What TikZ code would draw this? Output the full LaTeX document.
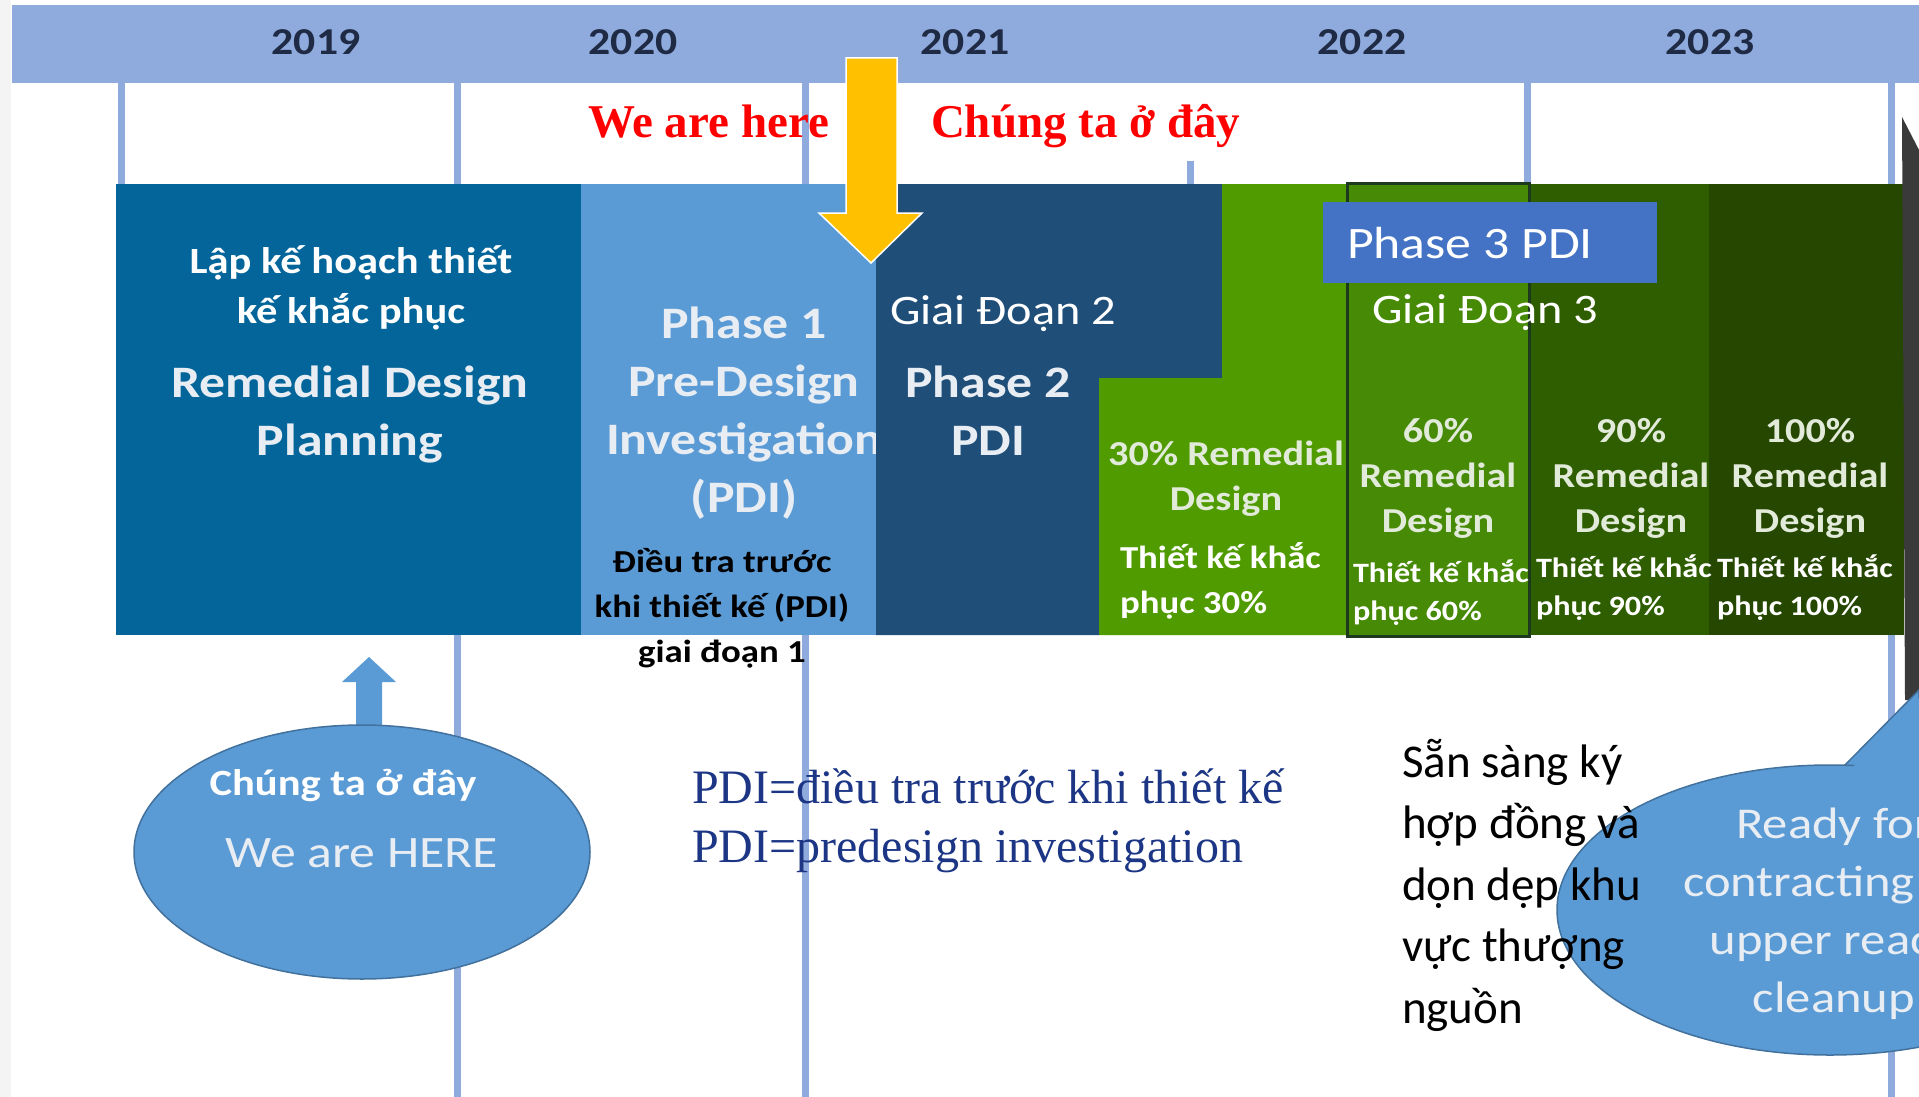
\documentclass[tikz,border=0pt]{standalone}
\usepackage{fontspec}
\setmainfont{Carlito}
\newfontfamily\stretchfont[FakeStretch=1.15]{Carlito}
\newfontfamily\timesfont{Liberation Serif}
\usetikzlibrary{positioning,calc}

\definecolor{bandblue}{HTML}{8FAADC}
\definecolor{yeartext}{HTML}{1F2A44}
\definecolor{planblue}{HTML}{03659A}
\definecolor{pdiblue}{HTML}{5B9BD5}
\definecolor{navybox}{HTML}{1F4E79}
\definecolor{greenA}{HTML}{4F9B00}
\definecolor{greenB}{HTML}{468A06}
\definecolor{greenC}{HTML}{2F5E00}
\definecolor{greenD}{HTML}{254700}
\definecolor{greenline}{HTML}{1E3A1E}
\definecolor{phasethree}{HTML}{4472C4}
\definecolor{arrowgold}{HTML}{FFC000}
\definecolor{pdinavy}{HTML}{1C3685}
\definecolor{fadewhite}{HTML}{E8EDF3}
\definecolor{fadegreen}{HTML}{E2EADA}
\definecolor{ovalline}{HTML}{41719C}
\definecolor{edgegray}{HTML}{3A3A3A}
\definecolor{margingray}{HTML}{F4F4F4}

\newcommand{\sz}[2]{\fontsize{#1}{#2}\selectfont}

\begin{document}
\begin{tikzpicture}[x=1pt, y=-1pt,
  every node/.style={inner sep=0pt, outer sep=0pt},
  year/.style={font=\stretchfont\bfseries\sz{38}{46}, text=yeartext, anchor=base},
  grid/.style={draw=bandblue, line width=7pt},
  head/.style={font=\stretchfont\bfseries\sz{45}{58}, text=fadewhite, align=center, anchor=base},
  pct/.style={font=\stretchfont\bfseries\sz{35}{45}, text=fadegreen, align=center, anchor=base},
  note/.style={font=\stretchfont\bfseries\sz{28}{38}, text=white, align=left, anchor=base west},
  gdlabel/.style={font=\stretchfont\sz{42}{50}, text=white, anchor=base west},
  redlabel/.style={font=\timesfont\bfseries\sz{47}{50}, text=red, anchor=base west},
  oval/.style={fill=pdiblue, draw=ovalline, line width=1.5pt}]
\useasboundingbox (0,0) rectangle (1919,1097);
\clip (0,0) rectangle (1919,1097);

% margin and year band
\fill[margingray] (0,0) rectangle (11,1097);
\fill[bandblue] (12,5) rectangle (1919,83);
\node[year] (y2019) at (316,55) {2019};
\node[year] (y2020) at (633,55) {2020};
\node[year] (y2021) at (965,55) {2021};
\node[year] (y2022) at (1362,55) {2022};
\node[year] (y2023) at (1710,55) {2023};

% grid lines
\foreach \gx in {457,805,1891}
  \draw[grid] (\gx,83) -- (\gx,1097);
\foreach \gx in {121,1190,1527}
  \draw[grid] (\gx,83) -- (\gx,184);
\fill[white] (911,83) rectangle (1289,161);

% phase boxes (multi-line nodes sit on their last baseline)
\fill[planblue] (116,184) rectangle (581,635);
\fill[pdiblue] (581,184) rectangle (877,635);
\node[head] (pdi1) at (744,512) {Phase 1\\Pre-Design\\Investigation\\(PDI)};
\fill[navybox] (876,184) -- (1222,184) -- (1222,378) -- (1099,378) -- (1099,635) -- (876,635) -- cycle;
\fill[greenA] (1099,378) -- (1222,378) -- (1222,184) -- (1347,184) -- (1347,635) -- (1099,635) -- cycle;
\fill[greenC] (1529,184) rectangle (1709,635);
\fill[greenD] (1709,184) rectangle (1904,635);
\filldraw[fill=greenB, draw=greenline, line width=3pt] (1347,183) rectangle (1529,636);
\fill[phasethree] (1323,202) rectangle (1657,283);
\fill[edgegray] (1902,117) -- (1919,150) -- (1919,700) -- (1905,700) -- cycle;

% box texts
\node[font=\stretchfont\bfseries\sz{37}{50}, text=white, align=center, anchor=base] (planvi) at (351,323) {Lập kế hoạch thiết\\kế khắc phục};
\node[head] (plan) at (350,455) {Remedial Design\\Planning};
\node[font=\stretchfont\bfseries\sz{32}{45}, align=center, anchor=base] (pdi1vi) at (722,662) {Điều tra trước\\khi thiết kế (PDI)\\giai đoạn 1};
\node[gdlabel] (gd2) at (890,324) {Giai Đoạn 2};
\node[head] (pdi2) at (988,455) {Phase 2\\PDI};
\node[font=\stretchfont\sz{45}{50}, text=white, anchor=base west] (ph3) at (1347,258) {Phase 3 PDI};
\node[gdlabel] (gd3) at (1372,323) {Giai Đoạn 3};
\node[pct] (rd30) at (1226,510) {30\% Remedial\\Design};
\node[font=\stretchfont\bfseries\sz{32}{45}, text=white, align=left, anchor=base west] (tk30) at (1120,613) {Thiết kế khắc\\phục 30\%};
\node[pct] (rd60) at (1438,532) {60\%\\Remedial\\Design};
\node[pct] (rd90) at (1631,532) {90\%\\Remedial\\Design};
\node[pct] (rd100) at (1810,532) {100\%\\Remedial\\Design};
\node[note] (tk60) at (1353,620) {Thiết kế khắc\\phục 60\%};
\node[note] (tk90) at (1536,615) {Thiết kế khắc\\phục 90\%};
\node[note] (tk100) at (1717,615) {Thiết kế khắc\\phục 100\%};

% we are here marker
\node[redlabel] (hereen) at (588,138) {We are here};
\node[redlabel] (herevi) at (931,138) {Chúng ta ở đây};
\filldraw[fill=arrowgold, draw=white, line width=1.5pt] (846,58) -- (897,58) -- (897,213) -- (922,213) -- (871,263) -- (819,213) -- (846,213) -- cycle;

% lower left oval
\fill[pdiblue] (356,726) -- (356,682) -- (342,682) -- (369,657) -- (396,682) -- (382,682) -- (382,726) -- cycle;
\path[oval] (362,852) ellipse [x radius=228, y radius=127];
\node[font=\stretchfont\bfseries\sz{37}{40}, text=white, anchor=base] (herebig) at (343,795) {Chúng ta ở đây};
\node[font=\stretchfont\sz{45}{50}, text=fadewhite, anchor=base] (herebigen) at (362,867) {We are HERE};

\node[font=\timesfont\sz{48}{59}, text=pdinavy, align=left, anchor=base west] (pdidef) at (692,862) {PDI=điều tra trước khi thiết kế\\PDI=predesign investigation};

% lower right callout
\filldraw[fill=pdiblue, draw=ovalline, line width=1.5pt] (1842,768) -- (1919,690) -- (1919,790) -- cycle;
\path[oval] (1830,910) ellipse [x radius=273, y radius=145];
\fill[pdiblue] (1852,768) -- (1919,698) -- (1919,795) -- (1852,795) -- cycle;
\node[font=\stretchfont\sz{44}{58}, text=fadewhite, align=center, anchor=base] (ready) at (1834,1012) {Ready for\\contracting for\\upper reach\\cleanup};
\node[font=\sz{47}{61.5}, align=left, anchor=base west] (readyvi) at (1402,1023) {Sẵn sàng ký\\hợp đồng và\\dọn dẹp khu\\vực thượng\\nguồn};
\end{tikzpicture}
\end{document}
